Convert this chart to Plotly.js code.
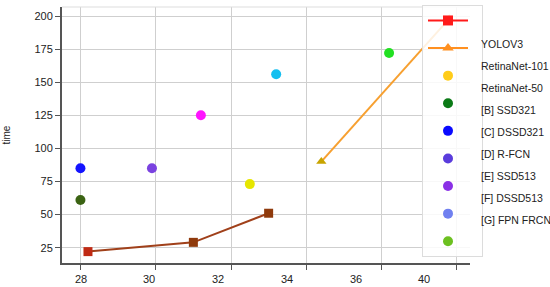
<!DOCTYPE html>
<html>
<head>
<meta charset="utf-8">
<script src="https://cdn.plot.ly/plotly-3.0.1.min.js"></script>
<style>
  html, body { margin: 0; padding: 0; background: #fff; }
  #chart { width: 550px; height: 287px; }
</style>
</head>
<body>
<div id="chart"></div>
<script>
// mAP (x) vs inference time in ms (y)
const yoloX = [28.2, 31.0, 33.0];
const yoloY = [22, 29, 51];
const retina101X = [34.4, 37.8];
const retina101Y = [90, 198];

const pointNames = ['RetinaNet-50', '[B] SSD321', '[C] DSSD321', '[D] R-FCN', '[E] SSD513', '[F] DSSD513', '[G] FPN FRCN'];
const pointX = [32.5, 28.0, 28.0, 29.9, 31.2, 33.2, 36.2];
const pointY = [73, 61, 85, 85, 125, 156, 172];
const pointColors = ['#e6e600', '#3b6313', '#1414ff', '#7a42e0', '#ff14ff', '#14bff0', '#22e022'];

const legendNames = ['YOLOV3', 'RetinaNet-101', 'RetinaNet-50', '[B] SSD321', '[C] DSSD321', '[D] R-FCN', '[E] SSD513', '[F] DSSD513', '[G] FPN FRCN'];
const legendColors = ['#ff1a1a', '#ff9020', '#ffcc1a', '#0b7a16', '#0a0aff', '#5a3cdc', '#8a30e6', '#7080f0', '#6cc020'];

const xTickVals = [28, 30, 32, 34, 36, 38];
const xTickLabels = ['28', '30', '32', '34', '36', '40'];
const yTickVals = [25, 50, 75, 100, 125, 150, 175, 200];

const FONT = "'Liberation Sans', Arial, sans-serif";
const traces = [];

traces.push({
  x: yoloX, y: yoloY, type: 'scatter', mode: 'lines+markers',
  line: { color: '#a0401a', width: 2 },
  marker: { symbol: 'square', size: 9, color: ['#c02a14', '#8f3a0c', '#8f3a0c'] },
  showlegend: false, hoverinfo: 'x+y'
});
traces.push({
  x: retina101X, y: retina101Y, type: 'scatter', mode: 'lines+markers',
  line: { color: '#f7a030', width: 2 },
  marker: { symbol: 'triangle-up', size: 9, color: '#c8a400' },
  showlegend: false, hoverinfo: 'x+y'
});
pointNames.forEach((n, i) => {
  traces.push({
    x: [pointX[i]], y: [pointY[i]], type: 'scatter', mode: 'markers', name: n,
    marker: { size: 10, color: pointColors[i] },
    showlegend: false
  });
});

// legend box: symbols only, the labels sit beside it (shifted, as in the original)
legendNames.forEach((n, i) => {
  const isLine = i < 2;
  traces.push({
    x: [null], y: [null], type: 'scatter',
    mode: isLine ? 'lines+markers' : 'markers',
    name: ' ', legendgroup: 's' + i,
    line: { color: legendColors[i], width: 2 },
    marker: { symbol: i === 0 ? 'square' : (i === 1 ? 'triangle-up' : 'circle'), size: 10, color: legendColors[i] },
    hoverinfo: 'skip'
  });
});

const plotL = 62, plotW = 408, plotT = 7, plotH = 256;
const x0 = 80.7, xStep = 68.7;
const annotations = xTickLabels.map((t, i) => ({
  text: t, xref: 'paper', yref: 'paper',
  x: (x0 + xStep * i - plotL) / plotW, y: 0, yshift: -16,
  showarrow: false, xanchor: 'center', yanchor: 'middle',
  font: { family: FONT, size: 11, color: '#222' }
}));
const lab0 = 44, labStep = 22;
legendNames.forEach((n, i) => {
  annotations.push({
    text: n, xref: 'paper', yref: 'paper',
    x: (479 - plotL) / plotW, y: 1 - (lab0 + labStep * i - plotT) / plotH,
    showarrow: false, xanchor: 'left', yanchor: 'middle',
    font: { family: FONT, size: 10.5, color: '#222' }
  });
});

const layout = {
  width: 550, height: 287,
  margin: { l: 62, r: 80, t: 7, b: 24, autoexpand: false },
  paper_bgcolor: '#fff', plot_bgcolor: '#fff',
  font: { family: FONT, size: 11, color: '#222' },
  xaxis: {
    range: [27.51, 38.35], tickvals: xTickVals, showticklabels: false,
    showgrid: true, gridcolor: '#cfcfcf', gridwidth: 1,
    showline: true, linecolor: '#555', linewidth: 1.5,
    ticks: 'outside', ticklen: 5, tickcolor: '#555',
    zeroline: false, fixedrange: true
  },
  yaxis: {
    range: [13.4, 206.8], tickvals: yTickVals,
    showgrid: true, gridcolor: '#cfcfcf', gridwidth: 1,
    showline: true, linecolor: '#555', linewidth: 2,
    ticks: 'outside', ticklen: 5, tickcolor: '#555',
    zeroline: false, fixedrange: true,
    title: { text: 'time', font: { size: 10, color: '#222' }, standoff: 22 }
  },
  shapes: [
    { type: 'line', xref: 'paper', yref: 'paper', x0: 0, x1: 1, y0: 1, y1: 1,
      line: { color: '#dddddd', width: 1 } }
  ],
  annotations: annotations,
  showlegend: true,
  legend: {
    x: (422 - plotL) / plotW, xanchor: 'left', y: 1.008, yanchor: 'top',
    bgcolor: 'rgba(255,255,255,0.85)', bordercolor: '#dcdcdc', borderwidth: 1,
    traceorder: 'grouped', tracegroupgap: 8.6, itemwidth: 40, maxheight: 1,
    font: { size: 11 }
  }
};

Plotly.newPlot('chart', traces, layout, { displayModeBar: false, staticPlot: true });
</script>
</body>
</html>
